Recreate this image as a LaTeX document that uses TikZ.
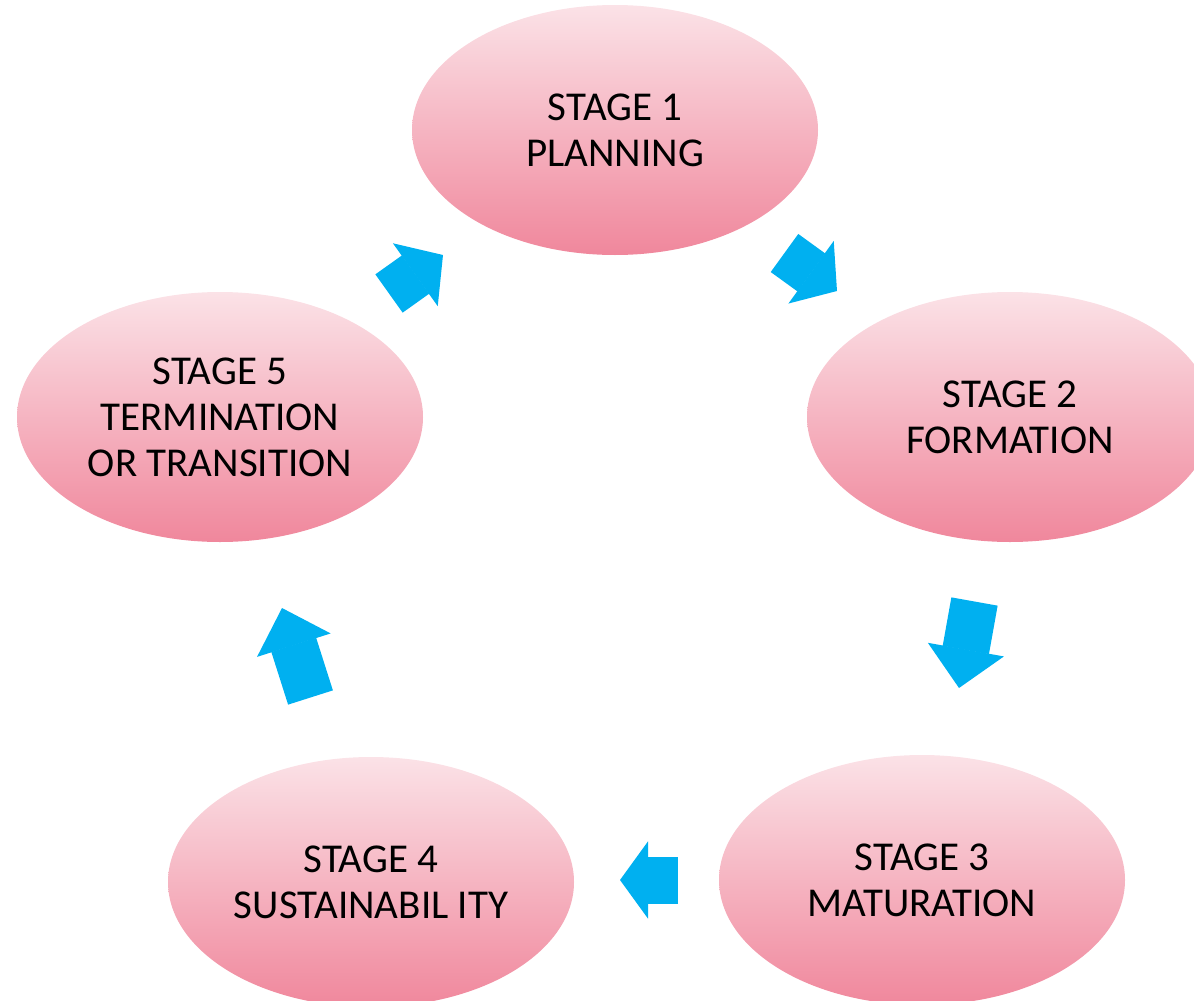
\documentclass[tikz,border=0pt]{standalone}
\usepackage{fontspec}
\setmainfont{Carlito}
\usetikzlibrary{shapes.geometric, arrows.meta}

\definecolor{stagetop}{HTML}{FBE2E7}
\definecolor{stagebottom}{HTML}{F0879C}
\definecolor{flowblue}{HTML}{00B0F0}

\tikzset{
    stage/.style = {ellipse, minimum width = 406pt, minimum height = 250pt,
                    inner sep = 0pt, top color = stagetop, bottom color = stagebottom,
                    align = center, font = \fontsize{41}{46}\selectfont},
    flow/.style  = {draw = flowblue, line width = 47pt,
                    -{Triangle[width = 77pt, length = #1, line width = 1.5pt, fill = flowblue]}}
}

\begin{document}
\begin{tikzpicture}[x = 1pt, y = -1pt]
            \useasboundingbox (0, 0) rectangle (1194, 1001);
            \clip (0, 0) rectangle (1194, 1001);

            \node [stage] (planning)    at (615, 130)   {STAGE 1\\PLANNING};
            \node [stage] (formation)   at (1010, 417)  {STAGE 2\\FORMATION};
            \node [stage] (maturation)  at (922, 880)   {STAGE 3\\MATURATION};
            \node [stage] (sustain)     at (371, 882)   {STAGE 4\\SUSTAINABIL ITY};
            \node [stage] (termination) at (220, 417)   {STAGE 5\\TERMINATION\\OR TRANSITION};

            \coordinate (a1s) at (389, 293.5);   \coordinate (a1e) at (443, 255);
            \coordinate (a2s) at (784.5, 253);   \coordinate (a2e) at (837, 291);
            \coordinate (a3s) at (974.5, 601.5); \coordinate (a3e) at (959, 688);
            \coordinate (a4s) at (678, 880);     \coordinate (a4e) at (620, 880);
            \coordinate (a5s) at (310.5, 697.5); \coordinate (a5e) at (282, 608);

            \draw [flow = 34pt] (a1s) -- (a1e); % termination -> planning
            \draw [flow = 32pt] (a2s) -- (a2e); % planning -> formation
            \draw [flow = 39pt] (a3s) -- (a3e); % formation -> maturation
            \draw [flow = 28pt] (a4s) -- (a4e); % maturation -> sustainability
            \draw [flow = 39pt] (a5s) -- (a5e); % sustainability -> termination
        \end{tikzpicture}
\end{document}
